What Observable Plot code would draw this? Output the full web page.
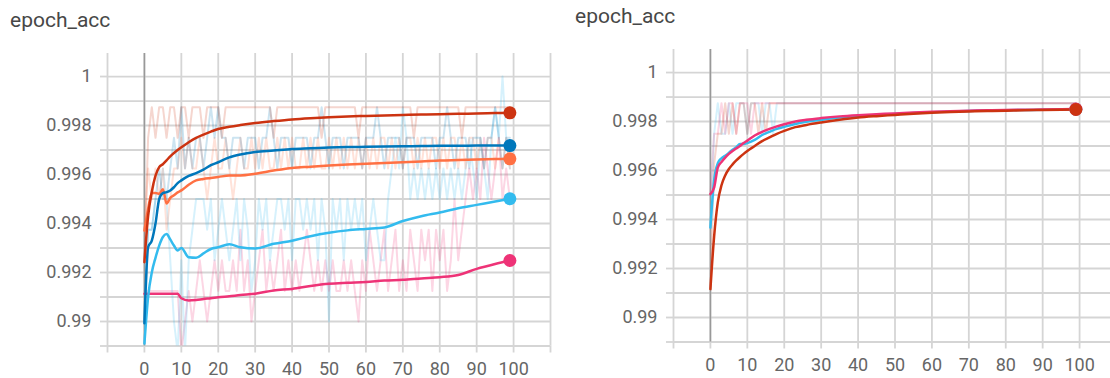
<!DOCTYPE html>
<html><head><meta charset="utf-8">
<script src="https://cdn.jsdelivr.net/npm/d3@7"></script>
<script src="https://cdn.jsdelivr.net/npm/@observablehq/plot@0.6"></script>
<style>
html,body{margin:0;padding:0;background:#fff;overflow:hidden;}
#wrap{position:relative;width:1110px;height:378px;overflow:hidden;font-family:Roboto,sans-serif;}
.title{position:absolute;font-size:21px;color:#474747;white-space:nowrap;line-height:normal;}
.panel{position:absolute;}
</style></head><body>
<div id="wrap">
  <div class="title" style="left:10px;top:8px">epoch_acc</div>
  <div class="title" style="left:575px;top:4px">epoch_acc</div>
  <div class="panel" id="left" style="left:0;top:40px"></div>
  <div class="panel" id="right" style="left:560px;top:36px"></div>
</div>
<script>
// ---- axis ticks & labels ----
const xTickValues = [0, 10, 20, 30, 40, 50, 60, 70, 80, 90, 100];
const xTickLabels = ["0", "10", "20", "30", "40", "50", "60", "70", "80", "90", "100"];
const xGridValues = [-10, 0, 10, 20, 30, 40, 50, 60, 70, 80, 90, 100, 110];
const yTickValues = [0.99, 0.992, 0.994, 0.996, 0.998, 1];
const yTickLabels = ["0.99", "0.992", "0.994", "0.996", "0.998", "1"];
const yGridValues = [0.989, 0.99, 0.991, 0.992, 0.993, 0.994, 0.995, 0.996, 0.997, 0.998, 0.999, 1];
const xDomain = [-10, 110];
const yDomain = [0.989, 1.00094];

// ---- epochs ----
const rawEpochs = d3.range(100);
const smoothEpochs = [0,1,2,3,4,5,6,7,8,9,10,12,14,16,18,20,23,26,30,35,40,45,50,55,60,65,70,75,80,85,90,95,99];

// ---- left chart: raw values ----
const leftRedRaw = [
.9925,.9975,.99875,.9975,.99875,.99875,.9975,.99875,.99875,.9975,
.99875,.99875,.9975,.99875,.99875,.99875,.9975,.99875,.99875,.99875,
.99875,.9975,.99875,.99875,.99875,.99875,.99875,.99875,.99875,.99875,
.99875,.99875,.99875,.99875,.99875,.9975,.99875,.99875,.99875,.99875,
.99875,.99875,.99875,.99875,.99875,.99875,.99875,.99875,.9975,.99875,
.99875,.99875,.99875,.99875,.99875,.99875,.99875,.99875,.9975,.99875,
.99875,.99875,.99875,.99875,.99875,.99875,.99875,.99875,.99875,.99875,
.99875,.99875,.99875,.9975,.99875,.99875,.99875,.99875,.99875,.99875,
.99875,.99875,.99875,.99875,.99875,.99875,.9975,.99875,.99875,.99875,
.99875,.99875,.99875,.99875,.99875,.99875,.99875,.99875,.99875,.99875];
const leftBlueRaw = [
.99,.99375,.99375,.995,.99625,.995,.995,.99625,.9975,.99625,
.99875,.99625,.9975,.99625,.9975,.9975,.99625,.9975,.99875,.9975,
.99875,.9975,.9975,.99625,.9975,.9975,.9975,.99625,.9975,.9975,
.9975,.99625,.9975,.9975,.99875,.9975,.99625,.9975,.9975,.9975,
.99625,.9975,.9975,.9975,.9975,.99625,.9975,.9975,.99875,.9975,
.99625,.9975,.9975,.9975,.99625,.9975,.9975,.9975,.9975,.99625,
.9975,.9975,.9975,.99875,.9975,.99625,.9975,.9975,.9975,.9975,
.99625,.9975,.9975,.9975,.99625,.9975,.9975,.9975,.9975,.99625,
.9975,.9975,.99875,.9975,.99625,.9975,.9975,.9975,.99625,.9975,
.9975,.9975,.99625,.9975,.9975,.99875,.9975,.99625,.9975,.9975];
const leftOrangeRaw = [
.99375,.99625,.995,.99625,.995,.99625,.99375,.995,.99625,.99625,
.9975,.99625,.9975,.99625,.99625,.9975,.99625,.995,.99625,.9975,
.99625,.99625,.9975,.99625,.995,.99625,.9975,.99625,.99625,.9975,
.99625,.9975,.99625,.9975,.99625,.99625,.9975,.99625,.9975,.99625,
.9975,.99625,.99625,.9975,.99625,.9975,.99625,.9975,.99625,.99625,
.9975,.99625,.9975,.99625,.9975,.99625,.9975,.99625,.9975,.99625,
.9975,.99625,.9975,.99625,.9975,.9975,.99625,.9975,.99625,.9975,
.99625,.9975,.9975,.99625,.9975,.99625,.9975,.99625,.9975,.9975,
.99625,.9975,.99625,.9975,.9975,.99625,.9975,.99625,.9975,.9975,
.99625,.9975,.99625,.9975,.9975,.99625,.9975,.99625,.9975,.99625];
const leftCyanRaw = [
.98875,.99375,.99375,.995,.995,.99625,.995,.9925,.99,.98875,
.9925,.98875,.9925,.99375,.995,.995,.995,.99375,.995,.9925,
.99375,.995,.99375,.9925,.99375,.995,.9925,.995,.99375,.99125,
.9925,.995,.99375,.995,.9925,.99375,.995,.995,.99375,.995,
.9925,.995,.995,.99375,.995,.99375,.995,.9925,.995,.99375,
.99,.995,.99375,.995,.9925,.995,.99375,.995,.99375,.995,
.9925,.99375,.995,.99375,.9925,.9925,.995,.99625,.9975,.99625,
.99875,.9975,.995,.99625,.995,.99625,.995,.99625,.995,.99625,
.995,.99625,.995,.99625,.995,.99625,.995,.99625,.9975,.99625,
.995,.9975,.99625,.995,.9975,.99875,.9975,1,.9975,.99625];
const leftPinkRaw = [
.99125,.99125,.99125,.99125,.99125,.99125,.99125,.99125,.99125,.99125,
.98875,.99,.99125,.99,.99125,.9925,.99125,.99,.99125,.9925,
.99125,.9925,.99125,.99125,.9925,.99125,.99375,.99125,.9925,.99,
.99125,.9925,.99375,.99125,.9925,.99125,.9925,.99375,.99125,.9925,
.99125,.9925,.99125,.9925,.99375,.9925,.99125,.9925,.99125,.9925,
.99125,.9925,.99125,.99125,.9925,.99125,.9925,.99125,.99,.9925,
.99125,.99375,.9925,.99125,.9925,.99375,.99125,.9925,.99375,.99125,
.9925,.99125,.99375,.9925,.99125,.99375,.9925,.99375,.99125,.99375,
.9925,.99375,.99125,.9925,.995,.9925,.99375,.995,.99625,.995,
.99625,.995,.9975,.99625,.995,.99625,.9975,.995,.99625,.995];

// ---- left chart: smoothed values at smoothEpochs ----
const leftRedSmooth = [.99242,.9943,.9953,.99595,.9963,.99642,.99658,.99674,.99688,.997,.99711,.99732,.9975,.99763,.99775,.99786,.99795,.99802,.9981,.99818,.99825,.9983,.99834,.99837,.99839,.99841,.99843,.99845,.99846,.99848,.99849,.99851,.99852];
const leftBlueSmooth = [.98993,.99303,.9933,.994,.995,.99524,.99528,.99535,.99548,.99565,.99576,.99594,.99606,.9962,.99638,.9965,.9967,.99682,.99692,.99698,.99704,.99707,.9971,.99712,.99713,.99714,.99715,.99716,.99717,.99717,.99718,.99718,.99718];
const leftOrangeSmooth = [.99371,.9946,.99525,.99525,.99521,.9954,.99482,.99505,.99515,.99527,.99535,.99558,.99576,.99582,.99586,.9959,.99596,.99596,.99603,.99616,.99627,.99632,.99637,.99641,.99644,.99647,.9965,.99653,.99657,.99659,.99661,.99663,.99664];
const leftCyanSmooth = [.9891,.991,.992,.9926,.9931,.99345,.99357,.99335,.9931,.9929,.993,.99262,.9926,.99278,.99296,.99303,.99315,.99303,.99298,.99317,.9933,.99348,.99362,.99372,.99378,.99384,.9941,.9943,.99445,.99462,.99476,.9949,.99501];
const leftPinkSmooth = [.99113,.99113,.99113,.99113,.99113,.99113,.99113,.99113,.99113,.99113,.99095,.99086,.99088,.99092,.99095,.99099,.99103,.99108,.99113,.99127,.99133,.99145,.99154,.99158,.99161,.99167,.9917,.99176,.99181,.9919,.99215,.99235,.99249];

// ---- right chart: raw values ----
const rightRedRaw = [
.99125,.99625,.9975,.9975,.99875,.9975,.99875,.9975,.99875,.99875,
.9975,.99875,.99875,.9975,.99875,.9975,.99875,.99875,.99875,.99875,
.99875,.99875,.99875,.99875,.99875,.99875,.99875,.99875,.99875,.99875,
.99875,.99875,.99875,.99875,.99875,.99875,.99875,.99875,.99875,.99875,
.99875,.99875,.99875,.99875,.99875,.99875,.99875,.99875,.99875,.99875,
.99875,.99875,.99875,.99875,.99875,.99875,.99875,.99875,.99875,.99875,
.99875,.99875,.99875,.99875,.99875,.99875,.99875,.99875,.99875,.99875,
.99875,.99875,.99875,.99875,.99875,.99875,.99875,.99875,.99875,.99875,
.99875,.99875,.99875,.99875,.99875,.99875,.99875,.99875,.99875,.99875,
.99875,.99875,.99875,.99875,.99875,.99875,.99875,.99875,.99875,.99875];
const rightPinkRaw = [
.995,.9975,.9975,.99875,.9975,.99875,.99875,.9975,.99875,.99875,
.99875,.9975,.99875,.99875,.99875,.99875,.99875,.99875,.99875,.99875,
.99875,.99875,.99875,.99875,.99875,.99875,.99875,.99875,.99875,.99875,
.99875,.99875,.99875,.99875,.99875,.99875,.99875,.99875,.99875,.99875,
.99875,.99875,.99875,.99875,.99875,.99875,.99875,.99875,.99875,.99875,
.99875,.99875,.99875,.99875,.99875,.99875,.99875,.99875,.99875,.99875,
.99875,.99875,.99875,.99875,.99875,.99875,.99875,.99875,.99875,.99875,
.99875,.99875,.99875,.99875,.99875,.99875,.99875,.99875,.99875,.99875,
.99875,.99875,.99875,.99875,.99875,.99875,.99875,.99875,.99875,.99875,
.99875,.99875,.99875,.99875,.99875,.99875,.99875,.99875,.99875,.99875];
const rightCyanRaw = [
.99375,.9975,.99875,.9975,.9975,.99875,.9975,.99875,.99875,.99875,
.9975,.99875,.99875,.99875,.9975,.99875,.99875,.9975,.99875,.99875,
.99875,.99875,.99875,.99875,.99875,.99875,.99875,.99875,.99875,.99875,
.99875,.99875,.99875,.99875,.99875,.99875,.99875,.99875,.99875,.99875,
.99875,.99875,.99875,.99875,.99875,.99875,.99875,.99875,.99875,.99875,
.99875,.99875,.99875,.99875,.99875,.99875,.99875,.99875,.99875,.99875,
.99875,.99875,.99875,.99875,.99875,.99875,.99875,.99875,.99875,.99875,
.99875,.99875,.99875,.99875,.99875,.99875,.99875,.99875,.99875,.99875,
.99875,.99875,.99875,.99875,.99875,.99875,.99875,.99875,.99875,.99875,
.99875,.99875,.99875,.99875,.99875,.99875,.99875,.99875,.99875,.99875];

// ---- right chart: smoothed values at smoothEpochs ----
const rightRedSmooth = [.99116,.9933,.9947,.9954,.9958,.99606,.99625,.99641,.99655,.99668,.9968,.997,.9972,.99735,.9975,.99762,.99777,.99786,.99796,.99807,.99816,.99822,.99827,.99832,.99836,.99839,.99841,.99843,.99844,.99846,.99847,.99848,.99849];
const rightPinkSmooth = [.99504,.9953,.99612,.99635,.99653,.99668,.9968,.9969,.997,.99712,.99722,.99743,.99758,.9977,.9978,.99789,.998,.99807,.99814,.99821,.99826,.9983,.99833,.99837,.9984,.99842,.99844,.99846,.99847,.99848,.99849,.9985,.99851];
const rightCyanSmooth = [.99367,.9956,.9963,.9965,.9966,.99672,.99685,.99695,.99708,.99708,.99712,.99725,.99745,.99758,.9977,.99778,.9979,.99799,.99807,.99816,.99822,.99827,.99831,.99835,.99838,.99841,.99843,.99845,.99846,.99847,.99848,.99849,.9985];

// ---- runs ----
const leftRuns = [
  {name: "run_pink",   color: "#ee3377", raw: leftPinkRaw,   smooth: leftPinkSmooth},
  {name: "run_cyan",   color: "#33bbee", raw: leftCyanRaw,   smooth: leftCyanSmooth},
  {name: "run_orange", color: "#ff7043", raw: leftOrangeRaw, smooth: leftOrangeSmooth},
  {name: "run_blue",   color: "#0077bb", raw: leftBlueRaw,   smooth: leftBlueSmooth},
  {name: "run_red",    color: "#cc3311", raw: leftRedRaw,    smooth: leftRedSmooth}
];
const rightRuns = [
  {name: "run_cyan", color: "#33bbee", raw: rightCyanRaw, smooth: rightCyanSmooth},
  {name: "run_pink", color: "#ee3377", raw: rightPinkRaw, smooth: rightPinkSmooth},
  {name: "run_red",  color: "#cc3311", raw: rightRedRaw,  smooth: rightRedSmooth}
];

const gridColor = "#d5d5d5";
const zeroColor = "#999999";
const xLabel = new Map(xTickValues.map((v, i) => [v, xTickLabels[i]]));
const yLabel = new Map(yTickValues.map((v, i) => [v, yTickLabels[i]]));

function makePanel(runs, width, marginLeft) {
  const raw = runs.flatMap(r => r.raw.map((v, i) => ({epoch: rawEpochs[i], value: v, run: r.name})));
  const smooth = runs.flatMap(r => r.smooth.map((v, i) => ({epoch: smoothEpochs[i], value: v, run: r.name})));
  const last = runs.map(r => ({epoch: smoothEpochs[smoothEpochs.length - 1], value: r.smooth[r.smooth.length - 1], run: r.name}));
  const svg = Plot.plot({
    width, height: 338,
    marginLeft, marginRight: 10, marginTop: 13, marginBottom: 32.5,
    x: {domain: xDomain, label: null},
    y: {domain: yDomain, label: null},
    color: {domain: runs.map(r => r.name), range: runs.map(r => r.color)},
    style: {fontFamily: "Roboto, sans-serif", fontSize: "18px", color: "#666", background: "transparent", overflow: "visible"},
    marks: [
      Plot.gridX(xGridValues, {stroke: gridColor, strokeOpacity: 1, strokeWidth: 1.8}),
      Plot.gridY(yGridValues, {stroke: gridColor, strokeOpacity: 1, strokeWidth: 1.8}),
      Plot.axisX(xGridValues, {tickSize: 7, tickFormat: () => "", stroke: gridColor, strokeWidth: 1.8, label: null}),
      Plot.axisY(yGridValues, {tickSize: 7, tickFormat: () => "", stroke: gridColor, strokeWidth: 1.8, label: null}),
      Plot.axisX(xTickValues, {tickSize: 0, tickPadding: 16.5, tickFormat: d => xLabel.get(d), label: null}),
      Plot.axisY(yTickValues, {tickSize: 0, tickPadding: 16, tickFormat: d => yLabel.get(d), label: null}),
      Plot.ruleX([0], {stroke: zeroColor, strokeWidth: 1.6}),
      Plot.line(raw, {x: "epoch", y: "value", z: "run", stroke: "run", strokeOpacity: 0.2, strokeWidth: 2, clip: true}),
      Plot.line(smooth, {x: "epoch", y: "value", z: "run", stroke: "run", strokeWidth: 2.5, curve: "monotone-x", clip: true}),
      Plot.dot(last, {x: "epoch", y: "value", fill: "run", r: 6.5})
    ]
  });
  svg.style.maxWidth = "none";
  return svg;
}

document.getElementById("left").appendChild(makePanel(leftRuns, 560, 107));
document.getElementById("right").appendChild(makePanel(rightRuns, 566, 113));
</script>
</body></html>
